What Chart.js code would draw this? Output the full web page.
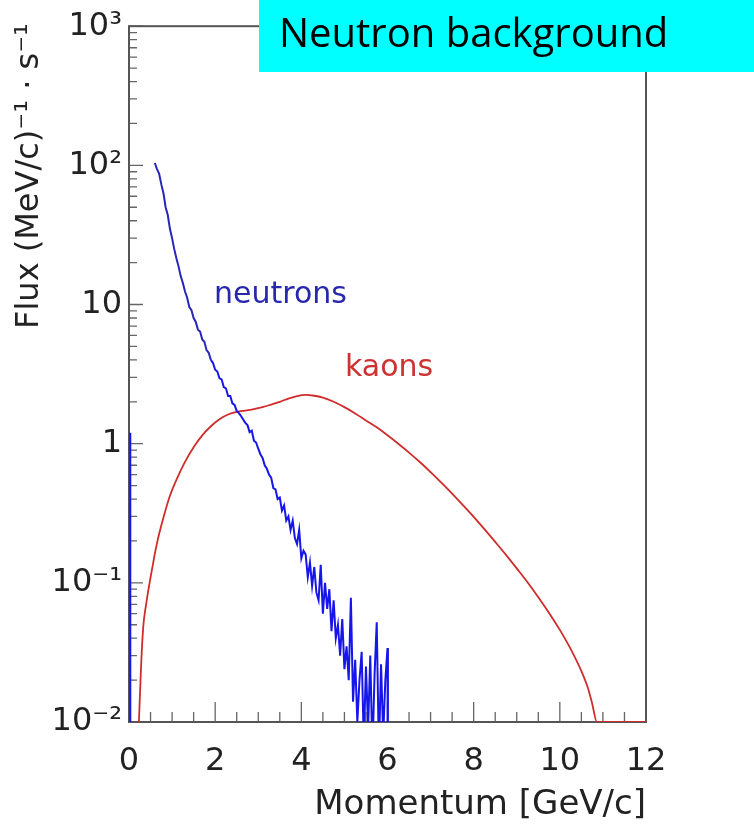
<!DOCTYPE html>
<html>
<head>
<meta charset="utf-8">
<script src="https://cdn.jsdelivr.net/npm/chart.js@4"></script>
<style>
html,body{margin:0;padding:0;background:#fff;}
#wrap{width:754px;height:829px;position:relative;}
</style>
</head>
<body>
<div id="wrap"><canvas id="c" width="754" height="829"></canvas></div>
<script>
// ---- data ----
const fluxTicks = [0.01, 0.1, 1, 10, 100, 1000];
const fluxTickLabels = ['10⁻²', '10⁻¹', '1', '10', '10²', '10³'];

const neutronP = [0.03, 0.03, 0.3,
  0.60, 0.65, 0.70, 0.75, 0.80, 0.85, 0.90, 0.95, 1.00, 1.05,
  1.10, 1.15, 1.20, 1.25, 1.30, 1.35, 1.40, 1.45, 1.50, 1.55,
  1.60, 1.65, 1.70, 1.75, 1.80, 1.85, 1.90, 1.95, 2.00, 2.05,
  2.10, 2.15, 2.20, 2.25, 2.30, 2.35, 2.40, 2.45, 2.50, 2.55,
  2.60, 2.65, 2.70, 2.75, 2.80, 2.85, 2.90, 2.95, 3.00, 3.05,
  3.10, 3.15, 3.20, 3.25, 3.30, 3.35, 3.40, 3.45, 3.50, 3.55,
  3.60, 3.65, 3.70, 3.75, 3.80, 3.85, 3.90, 3.95, 4.00, 4.05,
  4.10, 4.15, 4.20, 4.25, 4.30, 4.35, 4.40, 4.45, 4.50, 4.55,
  4.60, 4.65, 4.70, 4.75, 4.80, 4.85, 4.90, 4.95, 5.00, 5.05,
  5.10, 5.15, 5.20, 5.25, 5.30, 5.35, 5.40, 5.45, 5.50, 5.55,
  5.60, 5.65, 5.70, 5.75, 5.80, 5.85, 5.90, 5.95, 6.00, 6.01];
const neutronFlux = [1.2, 0.001, null,
  104, 94, 87, 73, 63, 50, 44, 35, 30, 25,
  21.5, 18.8, 16.0, 14.3, 12.4, 11.2, 9.6, 9.1, 8.0, 7.5,
  6.6, 6.4, 5.6, 5.4, 4.7, 4.5, 4.0, 3.8, 3.4, 3.3,
  2.95, 2.9, 2.55, 2.5, 2.2, 2.2, 1.95, 1.9, 1.72, 1.66,
  1.58, 1.49, 1.41, 1.36, 1.21, 1.24, 1.05, 1.02, 0.92, 0.84,
  0.79, 0.70, 0.66, 0.60, 0.57, 0.48, 0.47, 0.40, 0.41, 0.33,
  0.36, 0.28, 0.30, 0.24, 0.28, 0.21, 0.19, 0.24, 0.15, 0.17,
  0.16, 0.11, 0.14, 0.095, 0.13, 0.085, 0.075, 0.135, 0.06, 0.10,
  0.065, 0.09, 0.045, 0.075, 0.04, 0.05, 0.03, 0.055, 0.024, 0.035,
  0.02, 0.078, 0.014, 0.028, 0.01, 0.02, 0.032, 0.007, 0.025, 0.009,
  0.03, 0.006, 0.022, 0.052, 0.006, 0.026, 0.008, 0.02, 0.034, 0.001];

const kaonP = [0.23, 0.28, 0.33, 0.40, 0.45, 0.49, 0.55, 0.60, 0.65, 0.70,
  0.80, 0.95, 1.10, 1.30, 1.50, 1.70, 1.90, 2.10, 2.30, 2.50,
  2.70, 2.90, 3.10, 3.30, 3.50, 3.70, 3.90, 4.10, 4.30, 4.50,
  4.75, 5.00, 5.25, 5.50, 5.75, 6.00, 6.25, 6.50, 6.75, 7.00,
  7.25, 7.50, 7.75, 8.00, 8.25, 8.50, 8.75, 9.00, 9.25, 9.50,
  9.75, 10.00, 10.25, 10.50, 10.65, 10.75, 10.86, 11.0, 11.5, 12.0];
const kaonFlux = [0.010, 0.025, 0.048, 0.071, 0.089, 0.105, 0.133, 0.162, 0.193, 0.225,
  0.295, 0.422, 0.550, 0.741, 0.944, 1.148, 1.334, 1.50, 1.62, 1.69,
  1.73, 1.77, 1.83, 1.91, 2.00, 2.11, 2.20, 2.24, 2.21, 2.14,
  2.00, 1.83, 1.65, 1.47, 1.31, 1.15, 1.00, 0.863, 0.738, 0.625,
  0.525, 0.438, 0.362, 0.298, 0.243, 0.197, 0.159, 0.127, 0.101, 0.0789,
  0.0608, 0.0459, 0.0335, 0.0232, 0.0176, 0.0136, 0.010, 0.01, 0.01, 0.01];

const seriesNames = ['neutrons', 'kaons'];
const panelTitle = 'Neutron background';
const xTitle = 'Momentum [GeV/c]';
const yTitle = 'Flux (MeV/c)⁻¹ · s⁻¹';

// ---- helpers ----
const zip = (xs, ys) => xs.map((x, i) => ({x: x, y: ys[i]}));
const BLUE = 'rgb(22,22,235)';
const NAVY = 'rgb(38,38,185)';
const RED = 'rgb(208,44,44)';
const AXIS = '#555555';

const decor = {
  id: 'decor',
  beforeDatasetsDraw(chart) {
    const ctx = chart.ctx, a = chart.chartArea;
    const xs = chart.scales.x, ys = chart.scales.y;
    ctx.save();
    ctx.strokeStyle = '#666';
    ctx.lineWidth = 1.3;
    ctx.beginPath();
    for (let e = -2; e <= 2; e++) {
      for (let k = 1; k <= 9; k++) {
        const v = k * Math.pow(10, e);
        const py = ys.getPixelForValue(v);
        const len = (k === 1) ? 14 : 8;
        ctx.moveTo(a.left, py); ctx.lineTo(a.left + len, py);
      }
    }
    const ptop = ys.getPixelForValue(1000);
    ctx.moveTo(a.left, ptop); ctx.lineTo(a.left + 14, ptop);
    for (let i = 1; i < 24; i++) {
      const v = i * 0.5;
      const px = xs.getPixelForValue(v);
      const len = (i % 4 === 0) ? 20 : 10;
      ctx.moveTo(px, a.bottom); ctx.lineTo(px, a.bottom - len);
    }
    ctx.stroke();
    ctx.strokeStyle = AXIS;
    ctx.lineWidth = 2;
    ctx.strokeRect(a.left, a.top, a.right - a.left, a.bottom - a.top);
    ctx.restore();
  },
  afterDraw(chart) {
    const ctx = chart.ctx;
    ctx.save();
    ctx.fillStyle = '#00ffff';
    ctx.fillRect(259, 0, 754 - 259, 72);
    ctx.fillStyle = '#000';
    ctx.font = '40px "Open Sans"';
    ctx.textBaseline = 'alphabetic';
    ctx.textAlign = 'left';
    ctx.fillText(panelTitle, 279, 47);
    ctx.font = '30px "DejaVu Sans"';
    ctx.fillStyle = 'rgb(40,40,175)';
    ctx.fillText(seriesNames[0], 214, 303);
    ctx.fillStyle = 'rgb(205,50,50)';
    ctx.fillText(seriesNames[1], 345, 376);
    ctx.translate(38, 176);
    ctx.rotate(-Math.PI / 2);
    ctx.fillStyle = '#222';
    ctx.font = '32px "DejaVu Sans"';
    ctx.textAlign = 'center';
    ctx.fillText(yTitle, 0, 0);
    ctx.restore();
  }
};

new Chart(document.getElementById('c'), {
  type: 'line',
  data: {
    datasets: [
      {
        label: seriesNames[0],
        data: zip(neutronP, neutronFlux),
        borderColor: BLUE,
        borderWidth: 2,
        pointRadius: 0,
        tension: 0,
        spanGaps: false,
        segment: {
          borderColor: c => (c.p0.parsed.y > 4 && c.p0.parsed.x > 0.5) ? NAVY : BLUE
        }
      },
      {
        label: seriesNames[1],
        data: zip(kaonP, kaonFlux),
        borderColor: RED,
        borderWidth: 1.8,
        pointRadius: 0,
        cubicInterpolationMode: 'monotone'
      }
    ]
  },
  options: {
    responsive: false,
    animation: false,
    events: [],
    layout: {padding: {top: 26, right: 108, left: 0, bottom: 0}},
    plugins: {legend: {display: false}, tooltip: {enabled: false}},
    scales: {
      x: {
        type: 'linear',
        min: 0, max: 12,
        afterFit(s) { s.height = 107; },
        grid: {display: false, drawTicks: false},
        border: {display: false},
        ticks: {
          stepSize: 2,
          padding: 20,
          color: '#222',
          font: {family: 'DejaVu Sans', size: 32}
        },
        title: {
          display: true,
          text: xTitle,
          align: 'end',
          color: '#222',
          font: {family: 'DejaVu Sans', size: 34},
          padding: {top: 0, bottom: 3}
        }
      },
      y: {
        type: 'logarithmic',
        min: 0.01, max: 1000,
        afterFit(s) { s.width = 129; },
        afterBuildTicks(s) { s.ticks = fluxTicks.map(v => ({value: v, major: true})); },
        grid: {display: false, drawTicks: false},
        border: {display: false},
        ticks: {
          padding: 7,
          color: '#222',
          font: {family: 'DejaVu Sans', size: 32},
          callback(v) {
            const i = fluxTicks.findIndex(t => Math.abs(t - v) / t < 1e-6);
            return i >= 0 ? fluxTickLabels[i] : '';
          }
        }
      }
    }
  },
  plugins: [decor]
});
</script>
</body>
</html>
